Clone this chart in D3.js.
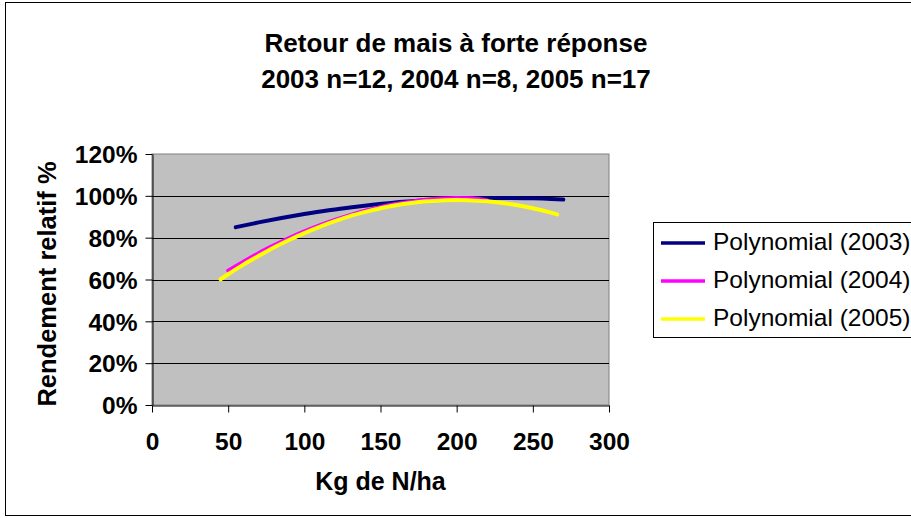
<!DOCTYPE html>
<html>
<head>
<meta charset="utf-8">
<script src="https://cdn.jsdelivr.net/npm/d3@7"></script>
<style>
  body { margin: 0; background: #fff; }
  svg text { font-family: "Liberation Sans", Arial, sans-serif; fill: #000; }
</style>
</head>
<body>
<div id="chart"></div>
<script>
// values (N dose in kg/ha, relative yield in %)
const titleLines = ["Retour de mais à forte réponse", "2003 n=12, 2004 n=8, 2005 n=17"];
const seriesNames = ["Polynomial (2003)", "Polynomial (2004)", "Polynomial (2005)"];
const seriesColors = ["#000080", "#FF00FF", "#FFFF00"];

const dose2003 = [55, 70, 85, 100, 115, 130, 145, 160, 175, 190, 205, 220, 235, 250, 262, 270];
const yield2003 = [85.0, 87.3, 89.4, 91.3, 93.0, 94.4, 95.7, 96.8, 97.6, 98.3, 98.7, 99.0, 99.0, 98.8, 98.5, 98.2];

const dose2004 = [50, 60, 70, 80, 90, 100, 110, 120, 130, 140, 150, 160, 170, 180, 190, 200, 210, 220];
const yield2004 = [64.2, 68.5, 72.6, 76.3, 79.8, 83.0, 85.9, 88.5, 90.8, 92.9, 94.6, 96.1, 97.2, 98.1, 98.7, 99.0, 98.8, 97.8];

const dose2005 = [45, 50, 60, 70, 80, 90, 100, 110, 120, 130, 140, 150, 160, 170, 180, 190, 200, 210, 220, 230, 240, 250, 260, 266];
const yield2005 = [60.1, 62.5, 67.1, 71.3, 75.3, 78.9, 82.2, 85.2, 87.9, 90.3, 92.3, 94.1, 95.5, 96.6, 97.4, 97.8, 98.0, 97.8, 97.4, 96.6, 95.5, 94.1, 92.3, 91.1];

const xTicks = [0, 50, 100, 150, 200, 250, 300];
const yTicks = [0, 20, 40, 60, 80, 100, 120];

var width = 911, height = 518;
var margin = {left: 152, top: 154, right: 302, bottom: 113};

const svg = d3.select("#chart").append("svg")
  .attr("width", width)
  .attr("height", height);

// outer chart frame
svg.append("rect")
  .attr("x", 5.5).attr("y", 2.5)
  .attr("width", 1000).attr("height", 513)
  .attr("fill", "#fff").attr("stroke", "#000").attr("stroke-width", 1);

var xScale = d3.scaleLinear().domain([0, 300]).range([margin.left, width - margin.right]);
var yScale = d3.scaleLinear().domain([0, 120]).range([height - margin.bottom, margin.top]);

// plot area
svg.append("rect")
  .attr("x", xScale(0)).attr("y", yScale(120))
  .attr("width", xScale(300) - xScale(0))
  .attr("height", yScale(0) - yScale(120))
  .attr("fill", "#C0C0C0").attr("stroke", "#808080");

// gridlines
svg.append("g").selectAll("line")
  .data(yTicks.filter(d => d > 0 && d < 120))
  .enter().append("line")
  .attr("x1", xScale(0)).attr("x2", xScale(300))
  .attr("y1", d => Math.round(yScale(d)) + 0.5)
  .attr("y2", d => Math.round(yScale(d)) + 0.5)
  .attr("stroke", "#000");

// axes
var xAxis = d3.axisBottom(xScale).tickValues(xTicks).tickSize(7).tickSizeOuter(0);
var yAxis = d3.axisLeft(yScale).tickValues(yTicks).tickSize(7).tickSizeOuter(0)
  .tickFormat(d => d + "%");

var gx = svg.append("g")
  .attr("transform", `translate(0, ${Math.round(yScale(0)) + 0.5})`)
  .call(xAxis);
var gy = svg.append("g")
  .attr("transform", `translate(${Math.round(xScale(0)) + 0.5}, 0)`)
  .call(yAxis);

[gx, gy].forEach(function(g) {
  g.select(".domain").attr("stroke", "#000");
  g.selectAll(".tick line").attr("stroke", "#000");
  g.selectAll(".tick text")
    .attr("font-family", "Liberation Sans, Arial, sans-serif")
    .attr("font-size", 24.5).attr("font-weight", "bold").attr("fill", "#000");
});
gx.selectAll(".tick text").attr("y", 0).attr("dy", 0).attr("transform", "translate(0,44)");
gy.selectAll(".tick text").attr("x", -15).attr("dy", "0.36em");

// trendlines
var line = d3.line()
  .x(d => xScale(d[0]))
  .y(d => yScale(d[1]))
  .curve(d3.curveMonotoneX);

var series = [
  d3.zip(dose2003, yield2003),
  d3.zip(dose2004, yield2004),
  d3.zip(dose2005, yield2005)
];

svg.append("g").selectAll("path")
  .data(series)
  .enter().append("path")
  .attr("d", line)
  .attr("fill", "none")
  .attr("stroke", (d, i) => seriesColors[i])
  .attr("stroke-width", 4)
  .attr("stroke-linejoin", "round")
  .attr("stroke-linecap", "round");

// title
svg.append("g").selectAll("text")
  .data(titleLines)
  .enter().append("text")
  .attr("x", 456)
  .attr("y", (d, i) => 52 + i * 36)
  .attr("text-anchor", "middle")
  .attr("font-size", 26)
  .attr("font-weight", "bold")
  .text(d => d);

// axis labels
svg.append("text")
  .attr("x", (xScale(0) + xScale(300)) / 2)
  .attr("y", 490)
  .attr("text-anchor", "middle")
  .attr("font-size", 25).attr("font-weight", "bold")
  .text("Kg de N/ha");

svg.append("text")
  .attr("transform", "translate(56, 284) rotate(-90)")
  .attr("text-anchor", "middle")
  .attr("font-size", 25.5).attr("font-weight", "bold")
  .text("Rendement relatif %");

// legend
var legend = svg.append("g");
legend.append("rect")
  .attr("x", 653.5).attr("y", 222.5)
  .attr("width", 400).attr("height", 115)
  .attr("fill", "#fff").attr("stroke", "#000");

var items = legend.selectAll("g.item")
  .data(seriesNames)
  .enter().append("g")
  .attr("transform", (d, i) => `translate(0, ${243 + i * 38})`);
items.append("line")
  .attr("x1", 661).attr("x2", 705)
  .attr("stroke", (d, i) => seriesColors[i])
  .attr("stroke-width", 3.5);
items.append("text")
  .attr("x", 713).attr("y", 7)
  .attr("font-size", 24.5)
  .text(d => d);
</script>
</body>
</html>
